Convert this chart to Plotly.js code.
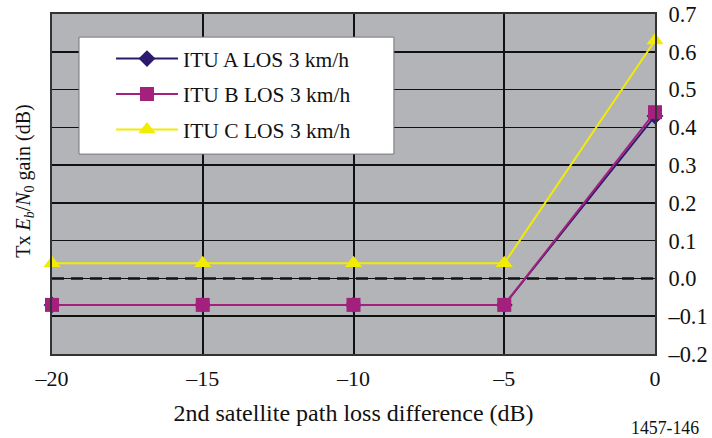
<!DOCTYPE html>
<html><head><meta charset="utf-8">
<script src="https://cdn.plot.ly/plotly-3.0.1.min.js"></script>
<style>body{margin:0;background:#fff}#c{width:712px;height:438px}</style>
</head><body><div id="c"></div>
<script>
const xVals = [-20, -15, -10, -5, 0];
const ituA = [-0.07, -0.07, -0.07, -0.07, 0.43];
const ituB = [-0.07, -0.07, -0.07, -0.07, 0.44];
const ituC = [0.04, 0.04, 0.04, 0.04, 0.63];
const names = ['ITU A LOS 3 km/h', 'ITU B LOS 3 km/h', 'ITU C LOS 3 km/h'];
const xTicks = [-20, -15, -10, -5, 0];
const xTickText = ['–20', '–15', '–10', '–5', '0'];
const yTicks = [-0.2, -0.1, 0, 0.1, 0.2, 0.3, 0.4, 0.5, 0.6, 0.7];
const yTickText = ['–0.2', '–0.1', '0.0', '0.1', '0.2', '0.3', '0.4', '0.5', '0.6', '0.7'];

const FONT = 'Liberation Serif, Times New Roman, serif';
const traces = [
  {x: xVals, y: ituA, name: names[0], legendgroup: 'a', mode: 'lines+markers', cliponaxis: false,
   line: {color: '#2b1a70', width: 2}, marker: {symbol: 'diamond', size: 13, color: '#2b1a70'}},
  {x: xVals, y: ituB, name: names[1], legendgroup: 'b', mode: 'lines+markers', cliponaxis: false,
   line: {color: '#a3217c', width: 2}, marker: {symbol: 'square', size: 14, color: '#a3217c'}},
  {x: xVals, y: ituC, name: names[2], legendgroup: 'c', mode: 'lines+markers', cliponaxis: false,
   line: {color: '#f2ec00', width: 2}, marker: {symbol: 'triangle-up', size: 15, color: '#f2ec00'}}
];
const layout = {
  width: 712, height: 438,
  margin: {l: 52, r: 57, t: 14, b: 84},
  paper_bgcolor: '#ffffff', plot_bgcolor: '#b3b4b8',
  font: {family: FONT, size: 22, color: '#111'},
  showlegend: true,
  legend: {x: 0.0978, y: 0.929, xanchor: 'left', yanchor: 'top', bgcolor: 'rgba(0,0,0,0)',
    borderwidth: 0, font: {family: FONT, size: 21.5, color: '#111'},
    tracegroupgap: 4.5, itemwidth: 62, traceorder: 'grouped'},
  xaxis: {range: [-20, 0], tickvals: xTicks, ticktext: xTickText, showgrid: true,
    gridcolor: '#111', gridwidth: 2, zeroline: false, showline: true, linecolor: '#333',
    linewidth: 2, mirror: true, ticks: '', ticklabelstandoff: 4, tickfont: {size: 22},
    title: {text: '2nd satellite path loss difference (dB)', font: {family: FONT, size: 24}, standoff: 14}},
  yaxis: {range: [-0.2, 0.7], side: 'right', tickvals: yTicks, ticktext: yTickText,
    showgrid: true, gridcolor: '#111', gridwidth: 1.6, zeroline: false, showline: true,
    linecolor: '#333', linewidth: 2, mirror: true, ticks: '', ticklabelstandoff: 7, tickfont: {size: 22.4}},
  shapes: [
    {type: 'line', xref: 'paper', yref: 'y', x0: 0, x1: 1, y0: 0, y1: 0, layer: 'between',
     line: {color: '#b3b4b8', width: 3}},
    {type: 'line', xref: 'paper', yref: 'y', x0: 0, x1: 1, y0: 0, y1: 0, layer: 'between',
     line: {color: '#111', width: 2.5, dash: '12px,7px'}},
    {type: 'rect', xref: 'paper', yref: 'paper', x0: 0.0448, x1: 0.567, y0: 0.588, y1: 0.932,
     layer: 'above', fillcolor: '#ffffff', line: {color: '#777', width: 1}}
  ],
  annotations: [
    {xref: 'paper', yref: 'paper', x: -0.045, y: 0.509, xanchor: 'center', yanchor: 'middle',
     textangle: -90, showarrow: false,
     text: 'Tx <i>E<sub>b</sub></i>/<i>N</i><sub>0</sub> gain (dB)', font: {family: FONT, size: 20}},
    {xref: 'paper', yref: 'paper', x: 1.017, y: -0.218, xanchor: 'center', yanchor: 'middle',
     showarrow: false, text: '1457-146', font: {family: FONT, size: 17.8}}
  ]
};
Plotly.newPlot('c', traces, layout, {displayModeBar: false, staticPlot: true});
</script></body></html>
